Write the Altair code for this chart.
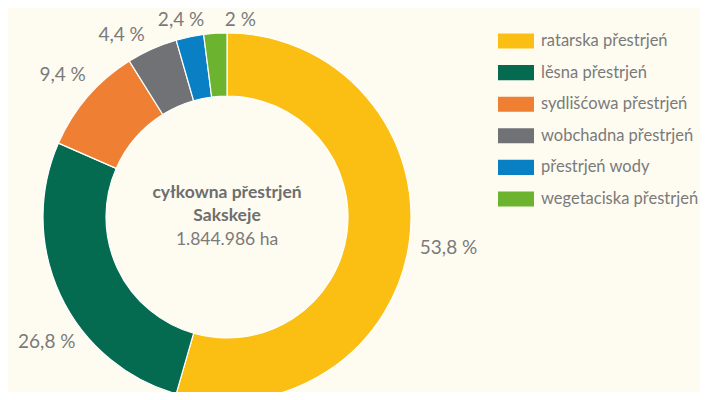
import altair as alt
import pandas as pd
import numpy as np

categories = ["ratarska přestrjeń", "lěsna přestrjeń", "sydlišćowa přestrjeń",
              "wobchadna přestrjeń", "přestrjeń wody", "wegetaciska přestrjeń"]
values = [53.8, 26.8, 9.4, 4.4, 2.4, 2.0]
labels = ["53,8 %", "26,8 %", "9,4 %", "4,4 %", "2,4 %", "2 %"]
colors = ["#FBBE13", "#046A50", "#EE7F33", "#717275", "#0A80C4", "#6CB42F"]
center_title = ["cyłkowna přestrjeń", "Sakskeje"]
center_value = "1.844.986 ha"

BG = "#FEFCF1"
TXT = "#7A7A7A"
FONT = "Lato"
PCT_SIZE = 19
CX, CY = 219, 209
W, H = 692, 384

# label layout: start at slice mid-angles, spread crowded labels apart,
# keep them inside the canvas
df = pd.DataFrame({"cat": categories, "val": values, "lab": labels, "idx": range(len(values))})
cum = np.cumsum(values)
ang = list((cum - np.array(values) / 2) / cum[-1] * 360.0)
GAP = 17.0
for _ in range(200):
    for i in range(len(ang) - 1):
        d = ang[i + 1] - ang[i]
        if d < GAP:
            s = (GAP - d) / 2
            ang[i] -= s
            ang[i + 1] += s


def radius_of(a):
    return 196 + 28 * abs(np.sin(np.radians(a)))


for i, a in enumerate(ang):
    half = 0.3 * PCT_SIZE * len(labels[i])
    for _ in range(200):
        x = CX + radius_of(a) * np.sin(np.radians(a))
        if x - half < 4:
            a += -0.5 if (a % 360) < 270 else 0.5
        elif x + half > W - 4:
            a += 0.5 if (a % 360) < 90 else -0.5
        else:
            break
    ang[i] = a

df["mid"] = np.radians(ang)
df["r"] = [radius_of(a) for a in ang]

color_scale = alt.Scale(domain=categories, range=colors)

arcs = alt.Chart(df).mark_arc(outerRadius=184, innerRadius=121, stroke="white", strokeWidth=1.2).encode(
    theta=alt.Theta("val:Q", stack=True),
    order=alt.Order("idx:Q"),
    x=alt.value(CX), y=alt.value(CY),
    color=alt.Color("cat:N", scale=color_scale, legend=None),
)

pct = alt.Chart(df).mark_text(font=FONT, fontSize=PCT_SIZE, color=TXT, align="center", baseline="middle").encode(
    x=alt.value(CX), y=alt.value(CY),
    theta=alt.Theta("mid:Q", scale=None),
    radius=alt.Radius("r:Q", scale=None),
    text="lab:N",
)

center_df = pd.DataFrame({"t": [center_title]})
title_txt = alt.Chart(center_df).mark_text(font=FONT, fontSize=17.5, fontWeight="bold", color="#6E6E6E",
                                           align="center", baseline="middle", lineHeight=23).encode(
    x=alt.value(CX), y=alt.value(CY - 24), text="t")

val_txt = alt.Chart(pd.DataFrame({"t": [center_value]})).mark_text(
    font=FONT, fontSize=17.5, color=TXT, align="center", baseline="middle").encode(
    x=alt.value(CX), y=alt.value(CY + 23), text="t")

# legend drawn as marks on a point scale
leg_y = alt.Y("cat:N", sort=categories, axis=None,
              scale=alt.Scale(type="point", domain=categories, range=[33, 191], padding=0))
leg_sym = alt.Chart(df).mark_point(shape="M-1,-0.42H1V0.42H-1Z", size=1296, filled=True, opacity=1,
                                   strokeWidth=0).encode(
    x=alt.value(508), y=leg_y,
    color=alt.Color("cat:N", scale=color_scale, legend=None),
)
leg_txt = alt.Chart(df).mark_text(font=FONT, fontSize=16.5, color=TXT, align="left", baseline="middle").encode(
    x=alt.value(533), y=leg_y, text="cat:N",
)

chart = alt.layer(arcs, pct, title_txt, val_txt, leg_sym, leg_txt).properties(
    width=W, height=H, background=BG, padding=0,
    autosize=alt.AutoSizeParams(type="none"),
).configure_view(stroke=None)

chart.save("out.html", embed_options={"renderer": "svg", "actions": False})
